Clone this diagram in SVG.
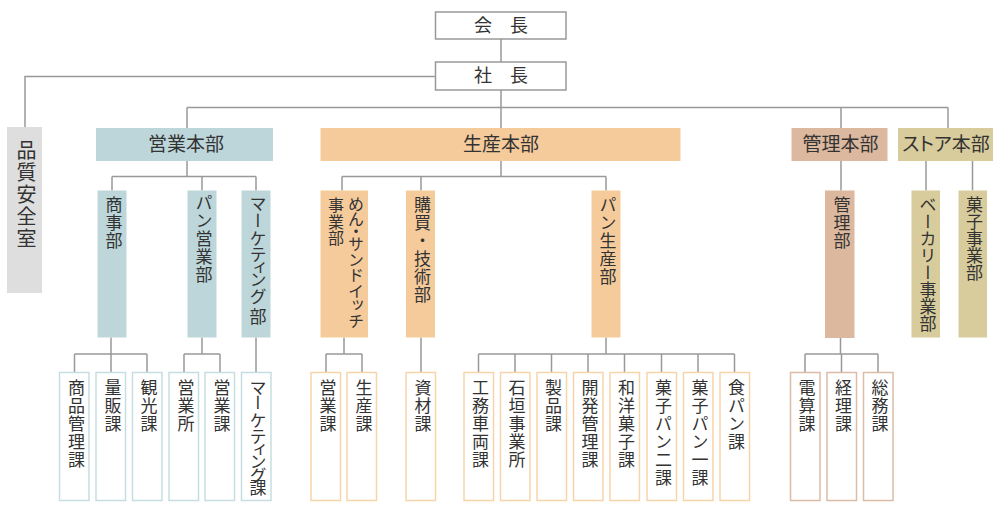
<svg xmlns="http://www.w3.org/2000/svg" width="1000" height="510" viewBox="0 0 1000 510">
<style>
text{font-family:"Liberation Sans","Noto Sans CJK JP",sans-serif;fill:#333;}
.h{font-size:18px;text-anchor:middle;dominant-baseline:central;}
.v{writing-mode:vertical-rl;text-anchor:start;font-size:17px;letter-spacing:1px;}
.v0{writing-mode:vertical-rl;text-anchor:start;font-size:17px;}
.vs{writing-mode:vertical-rl;text-anchor:start;font-size:16px;}
.ln{fill:none;stroke:#999;stroke-width:1.5;}
.top{fill:#fff;stroke:#999;stroke-width:1.5;}
.b{fill:#bdd6da;}
.o{fill:#f5cb9c;}
.k{fill:#dcb89f;}
.s{fill:#d8cc9c;}
.g{fill:#dedede;}
.cb{fill:#fff;stroke:#c6dee1;stroke-width:1.5;}
.co{fill:#fff;stroke:#f8d4aa;stroke-width:1.5;}
.ck{fill:#fff;stroke:#dcbca6;stroke-width:1.5;}
</style>
<g id="connectors" class="ln">
<path d="M501,39V62M435.5,76.5H25V127M501,90V128M187,107.5H948M187,107.5V128M841,107.5V128M948,107.5V128"/>
<path d="M187,161V176.5M112,176.5H256M112,176.5V190.5M202,176.5V190.5M256,176.5V190.5"/>
<path d="M501,161V176.5M342,176.5H606M342,176.5V190.5M421,176.5V190.5M606,176.5V190.5"/>
<path d="M841,161V190.5M926,161V190.5M972.5,161V190.5"/>
<path d="M111,337.5V354M74.5,354H147M74.5,354V372.5M111,354V372.5M147,354V372.5"/>
<path d="M202,337.5V354M184,354H220M184,354V372.5M220,354V372.5"/>
<path d="M256,337.5V372.5"/>
<path d="M344,337.5V354M326,354H362M326,354V372.5M362,354V372.5"/>
<path d="M421,337.5V372.5"/>
<path d="M606,337.5V354M478.5,354H734.5M478.5,354V372.5M515,354V372.5M551.5,354V372.5M588,354V372.5M624.5,354V372.5M661.5,354V372.5M698,354V372.5M734.5,354V372.5"/>
<path d="M840.5,337.5V354M805,354H878M805,354V372.5M841.5,354V372.5M878,354V372.5"/>
</g>
<g id="kaicho"><rect class="top" x="435.5" y="12" width="130.5" height="27"/><text class="h" x="501" y="25.5">会　長</text></g>
<g id="shacho"><rect class="top" x="435.5" y="62" width="130.5" height="28"/><text class="h" x="501" y="76">社　長</text></g>
<g id="hinshitsu"><rect class="g" x="7" y="127" width="35" height="166"/><text class="v" style="font-size:20px;letter-spacing:2px" x="25" y="140">品質安全室</text></g>
<g id="eigyo-honbu"><rect class="b" x="96" y="128" width="177" height="33"/><text class="h" style="font-size:19px" x="186" y="144.5">営業本部</text></g>
<g id="seisan-honbu"><rect class="o" x="320.5" y="128" width="360" height="33"/><text class="h" style="font-size:19px" x="501" y="144.5">生産本部</text></g>
<g id="kanri-honbu"><rect class="k" x="791.5" y="128" width="96" height="33"/><text class="h" style="font-size:19px" x="840.5" y="144.5">管理本部</text></g>
<g id="store-honbu"><rect class="s" x="898" y="128" width="95" height="33"/><text class="h" style="font-size:19px;font-feature-settings:'palt'" x="946" y="144.5">ストア本部</text></g>

<g id="shoji"><rect class="b" x="97.5" y="190.5" width="29" height="147"/><text class="v" x="112" y="196">商事部</text></g>
<g id="pan-eigyo"><rect class="b" x="187.5" y="190.5" width="29" height="147"/><text class="v" x="202" y="194">パン営業部</text></g>
<g id="marketing"><rect class="b" x="241.5" y="190.5" width="29" height="147"/><text class="v0" x="256" y="195 212 230 246 259 271 288 308">マーケティング部</text></g>
<g id="men"><rect class="o" x="320.5" y="190.5" width="47.5" height="147"/><text class="vs" x="354.5" y="196 211 223 236 252 267 283 297 313">めん・サンドイッチ</text><text class="vs" style="letter-spacing:0.7px" x="334.5" y="197">事業部</text></g>
<g id="kobai"><rect class="o" x="406" y="190.5" width="29" height="147"/><text class="v" x="420.5" y="196">購買・技術部</text></g>
<g id="pan-seisan"><rect class="o" x="591.5" y="190.5" width="29" height="147"/><text class="v" x="606" y="196">パン生産部</text></g>
<g id="kanri"><rect class="k" x="825" y="190.5" width="29.5" height="147.5"/><text class="v" x="840" y="196">管理部</text></g>
<g id="bakery"><rect class="s" x="911.5" y="190.5" width="28.5" height="147"/><text class="v0" x="926" y="196">ベーカリー事業部</text></g>
<g id="kashi-jigyo"><rect class="s" x="958.5" y="190.5" width="28.5" height="147"/><text class="v0" x="972.5" y="196">菓子事業部</text></g>

<g id="shohin"><rect class="cb" x="59.5" y="372.5" width="29.5" height="128"/><text class="v" x="74.5" y="379">商品管理課</text></g>
<g id="ryohan"><rect class="cb" x="96" y="372.5" width="29.5" height="128"/><text class="v" x="111" y="379">量販課</text></g>
<g id="kanko"><rect class="cb" x="132.5" y="372.5" width="29.5" height="128"/><text class="v" x="147" y="379">観光課</text></g>
<g id="eigyosho"><rect class="cb" x="169" y="372.5" width="29.5" height="128"/><text class="v" x="184" y="379">営業所</text></g>
<g id="eigyoka"><rect class="cb" x="205" y="372.5" width="29.5" height="128"/><text class="v" x="220" y="379">営業課</text></g>
<g id="marketing-ka"><rect class="cb" x="241.5" y="372.5" width="29.5" height="128"/><text class="v0" x="256" y="379 394 412 428 441 453 467 479">マーケティング課</text></g>

<g id="men-eigyo"><rect class="co" x="311" y="372.5" width="29.5" height="128"/><text class="v" x="326" y="379">営業課</text></g>
<g id="men-seisan"><rect class="co" x="347" y="372.5" width="29.5" height="128"/><text class="v" x="362" y="379">生産課</text></g>
<g id="shizai"><rect class="co" x="406" y="372.5" width="29.5" height="128"/><text class="v" x="421" y="379">資材課</text></g>
<g id="komu"><rect class="co" x="464" y="372.5" width="29.5" height="128"/><text class="v" x="478.5" y="379">工務車両課</text></g>
<g id="ishigaki"><rect class="co" x="500.5" y="372.5" width="29.5" height="128"/><text class="v" x="515" y="379">石垣事業所</text></g>
<g id="seihin"><rect class="co" x="537" y="372.5" width="29.5" height="128"/><text class="v" x="551.5" y="379">製品課</text></g>
<g id="kaihatsu"><rect class="co" x="573.5" y="372.5" width="29.5" height="128"/><text class="v" x="588" y="379">開発管理課</text></g>
<g id="wayogashi"><rect class="co" x="610" y="372.5" width="29.5" height="128"/><text class="v" x="624.5" y="379">和洋菓子課</text></g>
<g id="kashipan2"><rect class="co" x="647" y="372.5" width="29.5" height="128"/><text class="v" x="661.5" y="379">菓子パン二課</text></g>
<g id="kashipan1"><rect class="co" x="683.5" y="372.5" width="29.5" height="128"/><text class="v" x="698" y="379">菓子パン一課</text></g>
<g id="shokupan"><rect class="co" x="720" y="372.5" width="29.5" height="128"/><text class="v" x="734.5" y="379">食パン課</text></g>

<g id="densan"><rect class="ck" x="790.5" y="372.5" width="29.5" height="128"/><text class="v" x="805" y="379">電算課</text></g>
<g id="keiri"><rect class="ck" x="827" y="372.5" width="29.5" height="128"/><text class="v" x="841.5" y="379">経理課</text></g>
<g id="somu"><rect class="ck" x="863.5" y="372.5" width="29.5" height="128"/><text class="v" x="878" y="379">総務課</text></g>
</svg>
